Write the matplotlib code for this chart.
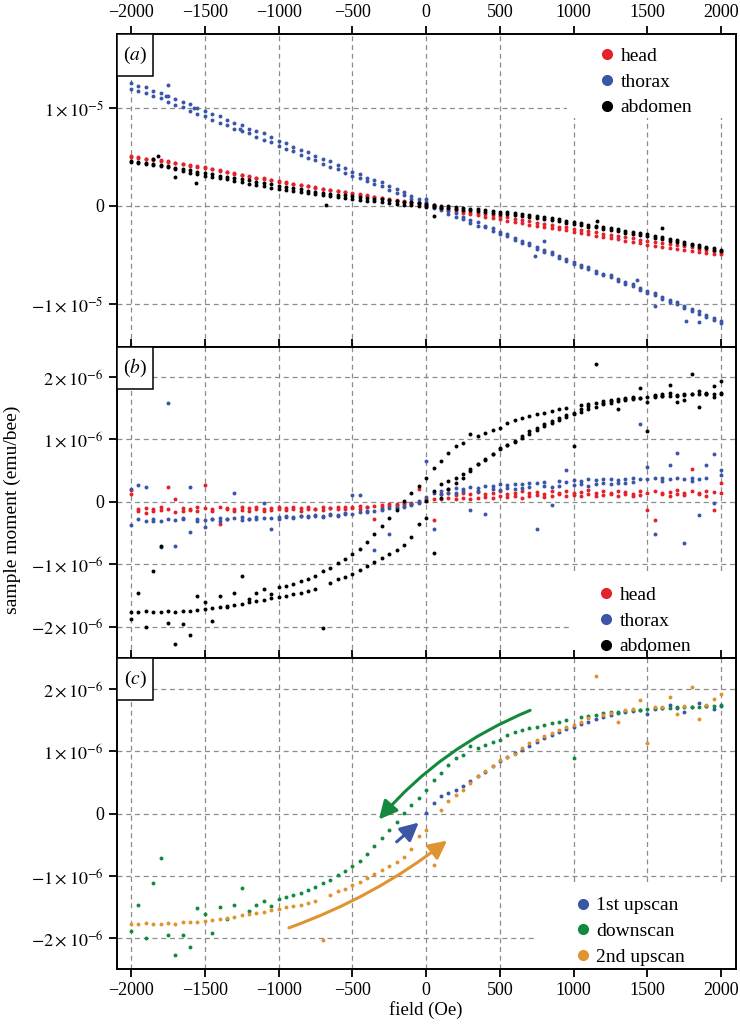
import matplotlib
matplotlib.use('Agg')
import matplotlib.pyplot as plt
import numpy as np
from matplotlib.lines import Line2D
from matplotlib.patches import Rectangle, FancyArrowPatch

plt.rcParams['font.family'] = ['Liberation Serif', 'DejaVu Serif']
plt.rcParams['mathtext.fontset'] = 'stix'

# field sweep, 50 Oe steps
field = np.arange(-2000, 2001, 50)
field_up1 = np.arange(0, 2001, 50)

# ---- panel (a), units of 1e-7 emu/bee ----
head_a_up = [51, 49, 48, 48, 47, 46, 44, 43, 42, 41, 40, 38, 37, 35, 34, 32, 31, 29, 27, 26,
             24, 23, 22, 21, 20, 19, 17, 16, 15, 14, 13, 12, 11, 9, 8, 7, 6, 5, 4, 3,
             2, 1, -1, -2, -3, -5, -6, -7, -8, -9, -10, -11, -13, -14, -15, -17, -18, -19, -21, -22,
             -24, -25, -26, -27, -29, -30, -31, -32, -33, -35, -36, -37, -38, -39, -40, -41, -42, -44, -45, -46,
             -47]
head_a_dn = [50, 50, 48, 47, 46, 45, 44, 43, 41, 40, 39, 38, 36, 35, 33, 32, 30, 29, 28, 26,
             25, 24, 22, 21, 20, 18, 17, 16, 15, 14, 12, 11, 10, 9, 8, 6, 5, 4, 3, 2,
             0, -1, -2, -4, -5, -7, -8, -9, -11, -12, -13, -15, -16, -17, -19, -20, -21, -23, -24, -25,
             -27, -28, -29, -31, -32, -33, -34, -36, -37, -38, -40, -41, -42, -43, -44, -45, -46, -47, -48, -49,
             -49]
thorax_a_up = [125, 122, 121, 117, 115, 112, 109, 106, 104, 100, 97, 94, 92, 88, 85, 83, 79, 76, 74, 70,
               66, 64, 60, 57, 55, 51, 48, 46, 42, 39, 35, 33, 29, 26, 24, 20, 17, 14, 10, 7,
               4, 1, -2, -5, -7, -11, -14, -16, -20, -23, -27, -29, -33, -36, -38, -42, -45, -47, -51, -54,
               -57, -60, -62, -66, -69, -71, -75, -78, -80, -84, -87, -89, -93, -96, -98, -102, -105, -107, -111, -114,
               -117]
thorax_a_dn = [119, 117, 115, 112, 110, 106, 103, 101, 97, 94, 92, 88, 85, 83, 79, 76, 74, 70, 67, 65,
               61, 58, 56, 52, 49, 47, 43, 40, 38, 34, 31, 29, 25, 22, 20, 16, 13, 11, 7, 4,
               1, -2, -4, -8, -11, -13, -17, -20, -22, -26, -29, -31, -35, -38, -40, -44, -47, -49, -53, -56,
               -59, -62, -64, -68, -71, -73, -77, -80, -82, -86, -89, -91, -95, -98, -100, -104, -107, -110, -113, -116,
               -120]
abdomen_a_dn = [46, 45, 44, 43, 42, 41, 39, 38, 37, 35, 34, 33, 31, 30, 28, 27, 26, 24, 23, 22,
                20, 19, 18, 17, 15, 14, 13, 12, 11, 11, 10, 9, 8, 7, 7, 6, 5, 4, 4, 3,
                2, 1, 0, 0, -1, -2, -3, -3, -4, -5, -6, -6, -7, -8, -9, -10, -11, -12, -13, -15,
                -16, -17, -19, -20, -22, -23, -24, -26, -27, -28, -29, -31, -32, -34, -35, -37, -39, -40, -42, -43,
                -45]
abdomen_a_up = [45, 44, 43, 42, 41, 40, 38, 36, 34, 33, 31, 30, 28, 27, 25, 24, 22, 21, 20, 18,
                17, 16, 15, 14, 13, 12, 11, 10, 9, 8, 7, 6, 5, 5, 4, 3, 2, 1, 1, 0,
                -1, -1, -2, -2, -3, -4, -4, -5, -6, -7, -8, -8, -9, -10, -11, -12, -13, -14, -15, -17,
                -18, -19, -21, -22, -24, -25, -26, -28, -29, -30, -31, -33, -34, -36, -37, -39, -40, -42, -43, -45,
                -46]
thorax_a_out_x = [-1750, -1760, -1575, -1260, 0, 740, 800, 1430, 1550, 1760, 1850]
thorax_a_out_y = [123, 112, 100, 79, 7, -51, -36, -76, -102, -117, -118]
abdomen_a_out_x = [-1850, -1820, -1700, -1560, -680, 50, 1160, 1600]
abdomen_a_out_y = [48, 51, 30, 23, 1, -10, -15, -23]

# ---- panel (b), head and thorax, units of 1e-8 emu/bee ----
head_b_up = [19, -11, -10, -12, -9, -11, 4, -10, -11, -9, -10, -12, -9, -10, -11, -9, -10, -8, -11, -10,
             -9, -10, -8, -10, -9, -11, -8, -10, -9, -8, -9, -7, -8, -6, -5, -3, -4, -2, -3, -1,
             3, 5, 4, 6, 5, 7, 5, 6, 8, 6, 9, 8, 10, 7, 9, 11, 8, 10, 12, 9,
             11, 10, 12, 9, 11, 13, 10, 12, 9, 11, -13, -29, 12, 10, 13, 11, 52, 12, 10, -13,
             30]
head_b_dn = [12, -15, -18, -14, -13, 24, -16, -14, -13, -15, 27, -14, -36, -12, -14, -13, -15, -12, -14, -13,
             -11, -13, -12, -14, -11, -12, -13, -10, -12, -11, -10, -12, -9, -28, -8, -6, -5, -3, -2, 20,
             4, -29, 12, 14, 11, 15, 13, 16, 12, 14, 17, 13, 15, 18, 14, 16, 13, 17, 15, 18,
             14, 16, 19, 15, 17, 14, 18, 16, 13, 17, 15, 18, 14, 16, 19, 15, 17, 14, 18, 16,
             15]
thorax_b_up = [-37, 27, -30, -28, -72, -27, -70, -26, -49, -28, -40, -27, -26, -28, 15, -25, -27, -24, -26, -43,
               -25, -23, -24, -22, -23, -21, -22, -20, -21, -18, -19, 11, -16, -77, -13, -51, -10, -8, -5, -2,
               65, -44, 12, 15, 14, 17, -13, 18, -19, 20, 19, 22, 21, 23, 24, -44, 25, 24, 26, 51,
               27, 28, 26, 29, 30, 28, 31, 30, 32, 125, 56, -52, 33, 59, 78, -66, 34, -21, 59, 76,
               51]
thorax_b_dn = [21, -28, 24, -30, -31, 158, -29, -27, 24, -30, -29, -28, -30, -27, -26, -29, -27, -28, -2, -26,
               -27, -24, -26, -23, -25, -22, -24, -21, -22, -19, 11, -17, -15, -14, -12, -10, -8, -6, -3, 1,
               8, 15, 18, 20, 22, 21, 24, 23, 26, 25, 28, 27, 29, 28, 31, 30, 32, -5, 33, 32,
               35, 34, 36, 35, 37, 36, 35, 37, 38, 36, 37, 39, 38, 36, 39, 37, 38, 36, 39, -2,
               43]

# ---- panel (c) = abdomen of panel (b), split by scan, units of 1e-8 emu/bee ----
downscan = [-188, -146, -200, -111, -71, -194, -227, -195, -213, -151, -160, -191, -150, -168, -146, -119, -156, -146, -140, -148,
            -136, -134, -131, -127, -123, -118, -111, -106, -98, -91, -84, -75, -65, -52, -39, -26, -13, 1, 14, 25,
            38, 54, 65, 78, 89, 95, 109, 105, 111, 115, 118, 126, 131, 134, 137, 140, 142, 145, 148, 150,
            89, 155, 157, 159, 161, 163, 164, 165, 166, 167, 168, 169, 169, 170, 171, 171, 172, 172, 173, 173,
            174]
upscan2 = [-176, -177, -175, -176, -176, -175, -176, -174, -174, -173, -172, -170, -169, -167, -165, -163, -161, -159, -157, -154,
           -152, -150, -148, -146, -143, -140, -202, -130, -124, -120, -115, -109, -103, -97, -90, -84, -77, -69, -56, -36,
           -26, -82, 6, 20, 30, 38, 50, 60, 68, 77, 86, 91, 96, 105, 113, 119, 125, 130, 134, 139,
           143, 148, 153, 221, 159, 162, 148, 166, 168, 183, 113, 171, 172, 187, 160, 173, 204, 152, 174, 185,
           193]
upscan1 = [1, 17, 28, 33, 38, 45, 52, 60, 67, 76, 84, 91, 97, 103, 109, 115, 121, 126, 131, 136,
           140, 144, 148, 152, 156, 159, 161, 163, 165, 166, 160, 168, 169, 175, 170, 163, 172, 178, 173, 168,
           173]

red = '#e4222b'
blue = '#3b56a6'
green = '#13893d'
orange = '#de9430'
grid_col = '#8c8c8c'

fig = plt.figure(figsize=(7.4, 10.28), dpi=100)
left, width = 117 / 740, 619 / 740
ax_a = fig.add_axes([left, 1 - 347 / 1028, width, 313 / 1028])
ax_b = fig.add_axes([left, 1 - 658 / 1028, width, 311 / 1028])
ax_c = fig.add_axes([left, 1 - 969 / 1028, width, 311 / 1028])

ms = 8
ax_a.scatter(field, np.array(head_a_up) * 1e-7, s=ms, c=red, lw=0, zorder=3)
ax_a.scatter(field, np.array(head_a_dn) * 1e-7, s=ms, c=red, lw=0, zorder=3)
ax_a.scatter(field, np.array(thorax_a_up) * 1e-7, s=ms, c=blue, lw=0, zorder=3)
ax_a.scatter(field, np.array(thorax_a_dn) * 1e-7, s=ms, c=blue, lw=0, zorder=3)
ax_a.scatter(thorax_a_out_x, np.array(thorax_a_out_y) * 1e-7, s=ms, c=blue, lw=0, zorder=3)
ax_a.scatter(field, np.array(abdomen_a_up) * 1e-7, s=ms, c='k', lw=0, zorder=3)
ax_a.scatter(field, np.array(abdomen_a_dn) * 1e-7, s=ms, c='k', lw=0, zorder=3)
ax_a.scatter(abdomen_a_out_x, np.array(abdomen_a_out_y) * 1e-7, s=ms, c='k', lw=0, zorder=3)

ax_b.scatter(field, np.array(head_b_up) * 1e-8, s=ms, c=red, lw=0, zorder=3)
ax_b.scatter(field, np.array(head_b_dn) * 1e-8, s=ms, c=red, lw=0, zorder=3)
ax_b.scatter(field, np.array(thorax_b_up) * 1e-8, s=ms, c=blue, lw=0, zorder=3)
ax_b.scatter(field, np.array(thorax_b_dn) * 1e-8, s=ms, c=blue, lw=0, zorder=3)
ax_b.scatter(field, np.array(downscan) * 1e-8, s=ms, c='k', lw=0, zorder=3)
ax_b.scatter(field, np.array(upscan2) * 1e-8, s=ms, c='k', lw=0, zorder=3)
ax_b.scatter(field_up1, np.array(upscan1) * 1e-8, s=ms, c='k', lw=0, zorder=3)

ax_c.scatter(field_up1, np.array(upscan1) * 1e-8, s=ms, c=blue, lw=0, zorder=3)
ax_c.scatter(field, np.array(downscan) * 1e-8, s=ms, c=green, lw=0, zorder=3)
ax_c.scatter(field, np.array(upscan2) * 1e-8, s=ms, c=orange, lw=0, zorder=3)

# scan direction arrows
arrows = [((705, 1.66e-6), (-320, -0.09e-6), green, 0.12),
          ((-200, -0.45e-6), (-50, -0.14e-6), blue, 0.0),
          ((-930, -1.83e-6), (142, -0.43e-6), orange, 0.08)]
for (x0, y0), (x1, y1), col, rad in arrows:
    ax_c.add_patch(FancyArrowPatch((x0, y0), (x1, y1), arrowstyle='-|>,head_length=11,head_width=5.5',
                                   connectionstyle=f'arc3,rad={rad}', color=col, lw=2.2,
                                   shrinkA=0, shrinkB=0, zorder=4))

ylims = [(-1.44e-5, 1.755e-5), (-2.5e-6, 2.48e-6), (-2.49e-6, 2.5e-6)]
yticks = [[-1e-5, 0, 1e-5], [-2e-6, -1e-6, 0, 1e-6, 2e-6], [-2e-6, -1e-6, 0, 1e-6, 2e-6]]
yticklabels = [[r'$-1\times10^{-5}$', '0', r'$1\times10^{-5}$'],
               [r'$-2\times10^{-6}$', r'$-1\times10^{-6}$', '0', r'$1\times10^{-6}$', r'$2\times10^{-6}$'],
               [r'$-2\times10^{-6}$', r'$-1\times10^{-6}$', '0', r'$1\times10^{-6}$', r'$2\times10^{-6}$']]
xticks = np.arange(-2000, 2001, 500)

for i, (ax, tag) in enumerate(zip([ax_a, ax_b, ax_c], ['a', 'b', 'c'])):
    ax.set_xlim(-2095, 2100)
    ax.set_ylim(*ylims[i])
    ax.set_yticks(yticks[i])
    ax.set_yticklabels(yticklabels[i])
    ax.set_xticks(xticks)
    ax.set_xticklabels([str(v).replace('-', '\u2212') for v in xticks])
    ax.tick_params(axis='both', direction='out', length=6, width=1.3, labelsize=13,
                   top=True, bottom=True, labeltop=(i == 0), labelbottom=(i == 2))
    ax.grid(True, color=grid_col, lw=0.9, dashes=(4, 3))
    ax.set_axisbelow(True)
    for sp in ax.spines.values():
        sp.set_linewidth(1.4)
    ax.add_patch(Rectangle((0, 1 - 42 / 311), 36 / 619, 42 / 311, transform=ax.transAxes,
                           facecolor='white', edgecolor='k', lw=1.1, zorder=5, clip_on=False))
    ax.text(18 / 619, 1 - 21 / 311, '(' + r'$\mathit{' + tag + '}$' + ')', transform=ax.transAxes,
            ha='center', va='center', fontsize=14, zorder=6)

# white areas behind the legends (they hide the grid)
masks = [(ax_a, 0.727, 0.732, 1 - 0.727, 1 - 0.732),
         (ax_b, 0.732, 0.0, 1 - 0.732, 0.273),
         (ax_c, 0.677, 0.0, 1 - 0.677, 0.277)]
for ax, x0, y0, w, h in masks:
    ax.add_patch(Rectangle((x0, y0), w, h, transform=ax.transAxes, facecolor='white',
                           edgecolor='none', zorder=1))


def make_legend(ax, labels, colors, anchor):
    handles = [Line2D([], [], marker='o', ls='', color=c, markersize=7) for c in colors]
    ax.legend(handles, labels, loc='upper left', bbox_to_anchor=anchor, fontsize=14, frameon=False,
              handletextpad=0.3, handlelength=0.8, labelspacing=0.42, borderpad=0,
              borderaxespad=0)


make_legend(ax_a, ['head', 'thorax', 'abdomen'], [red, blue, 'k'], (0.7787, 0.958))
make_legend(ax_b, ['head', 'thorax', 'abdomen'], [red, blue, 'k'], (0.777, 0.231))
make_legend(ax_c, ['1st upscan', 'downscan', '2nd upscan'], [blue, green, orange], (0.740, 0.232))

fig.text(12 / 740, 0.504, 'sample moment (emu/bee)', rotation=90, ha='center', va='center', fontsize=14)
fig.text(426 / 740, 1 - 1010 / 1028, 'field (Oe)', ha='center', va='center', fontsize=13.5)

fig.savefig('out.png', dpi=100)
